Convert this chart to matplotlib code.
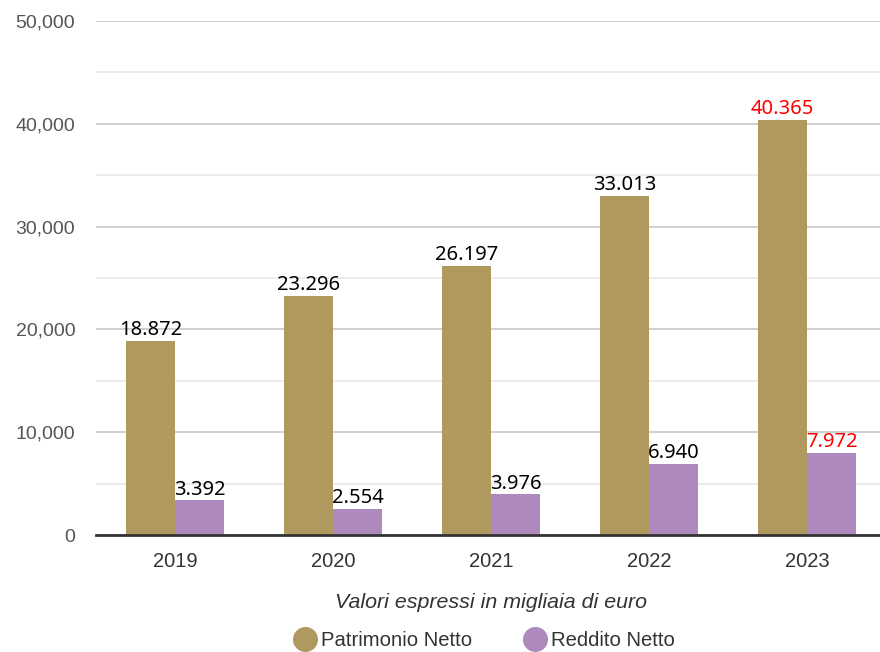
import numpy as np
import matplotlib.pyplot as plt
from matplotlib.ticker import FuncFormatter, MultipleLocator
from matplotlib.lines import Line2D

years = ['2019', '2020', '2021', '2022', '2023']
patrimonio = [18872, 23296, 26197, 33013, 40365]
reddito = [3392, 2554, 3976, 6940, 7972]
patrimonio_labels = ['18.872', '23.296', '26.197', '33.013', '40.365']
reddito_labels = ['3.392', '2.554', '3.976', '6.940', '7.972']

col_pat = '#B0995F'
col_red = '#AD89BD'

fig = plt.figure(figsize=(8.8, 6.52), dpi=100)
ax = fig.add_axes([96 / 880, 1 - 535 / 652, 790 / 880, 514 / 652])

x = np.arange(len(years))
w = 0.31
ax.bar(x - w / 2 - 0.003, patrimonio, w, color=col_pat, zorder=3)
ax.bar(x + w / 2 + 0.003, reddito, w, color=col_red, zorder=3)

for i in range(len(years)):
    c = 'red' if i == len(years) - 1 else 'black'
    ax.text(x[i] - w / 2, patrimonio[i] + 60, patrimonio_labels[i], ha='center', va='bottom',
            fontsize=14.5, color=c, family='Noto Sans', zorder=4)
    ax.text(x[i] + w / 2, reddito[i] + 60, reddito_labels[i], ha='center', va='bottom',
            fontsize=14.5, color=c, family='Noto Sans', zorder=4)

ax.set_xlim(-0.5, 4.5)
ax.set_ylim(0, 50000)
ax.yaxis.set_major_locator(MultipleLocator(10000))
ax.yaxis.set_minor_locator(MultipleLocator(5000))
ax.yaxis.set_major_formatter(FuncFormatter(lambda v, p: f'{int(v):,}'))
ax.grid(axis='y', which='major', color='#cccccc', linewidth=1.3, zorder=0)
ax.grid(axis='y', which='minor', color='#eaeaea', linewidth=1.3, zorder=0)
ax.set_axisbelow(True)

for s in ['top', 'right', 'left']:
    ax.spines[s].set_visible(False)
ax.spines['bottom'].set_color('#333333')
ax.spines['bottom'].set_linewidth(2)
ax.spines['bottom'].set_zorder(5)

ax.set_xticks(x)
ax.set_xticklabels(years)
ax.tick_params(axis='x', length=0, pad=12, labelsize=14.5, labelcolor='#333333')
ax.tick_params(axis='y', which='both', length=0, pad=15, labelsize=14, labelcolor='#555555')
for t in ax.get_xticklabels() + ax.get_yticklabels():
    t.set_family('Liberation Sans')

ax.set_xlabel('Valori espressi in migliaia di euro', fontsize=15.4, style='italic',
              color='#333333', family='Liberation Sans', labelpad=16)

handles = [Line2D([], [], marker='o', linestyle='', markersize=17, color=col_pat),
           Line2D([], [], marker='o', linestyle='', markersize=17, color=col_red)]
fig.legend(handles, ['Patrimonio Netto', 'Reddito Netto'], loc='center',
           bbox_to_anchor=(484 / 880, 1 - 641 / 652), ncol=2, frameon=False,
           prop={'family': 'Liberation Sans', 'size': 14.6}, labelcolor='#333333',
           handlelength=1.2, handletextpad=0.2, columnspacing=2.5)

fig.savefig('out.png', dpi=100)
